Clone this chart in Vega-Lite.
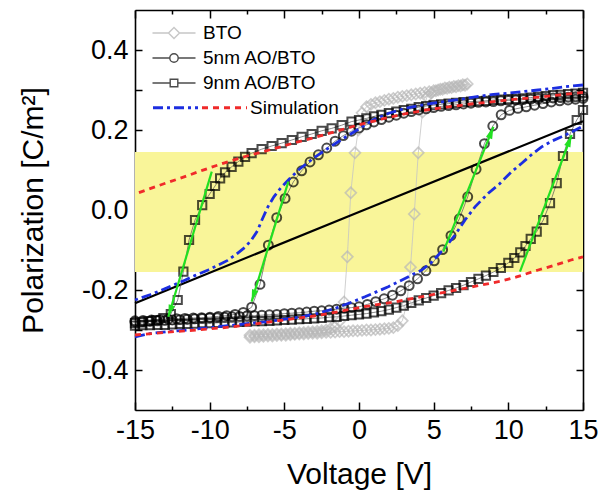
{
"$schema":"https://vega.github.io/schema/vega-lite/v6.json",
"width":448,"height":400,
"autosize":{"type":"none"},
"padding":{"left":135,"top":10,"right":20,"bottom":85},
"background":"white",
"config":{
 "view":{"stroke":null},
 "font":"Liberation Sans",
 "axis":{"grid":false,"domainColor":"black","domainWidth":1.6,"tickColor":"black","tickWidth":1.5,"labelFont":"Liberation Sans","labelFontSize":27,"labelColor":"black","titleFont":"Liberation Sans","titleFontSize":30,"titleFontWeight":"normal","titleColor":"black"},
 "legend":{"labelFont":"Liberation Sans","labelFontSize":19,"labelColor":"black","padding":0}
},
"data":{"values":[
{"s":"band","v":-15,"v2":15,"p":-0.155,"p2":0.145},
{"s":"lin","v":-15,"p":-0.233},{"s":"lin","v":0,"p":-0.005},{"s":"lin","v":15,"p":0.222},
{"s":"bto","b":"lo","v":-7.3,"p":-0.318},{"s":"bto","b":"lo","v":-7.0,"p":-0.317},{"s":"bto","b":"lo","v":-6.7,"p":-0.317},{"s":"bto","b":"lo","v":-6.4,"p":-0.316},{"s":"bto","b":"lo","v":-6.1,"p":-0.315},{"s":"bto","b":"lo","v":-5.8,"p":-0.315},{"s":"bto","b":"lo","v":-5.5,"p":-0.314},{"s":"bto","b":"lo","v":-5.2,"p":-0.313},{"s":"bto","b":"lo","v":-4.9,"p":-0.313},{"s":"bto","b":"lo","v":-4.6,"p":-0.312},{"s":"bto","b":"lo","v":-4.3,"p":-0.311},{"s":"bto","b":"lo","v":-4.0,"p":-0.31},{"s":"bto","b":"lo","v":-3.7,"p":-0.31},{"s":"bto","b":"lo","v":-3.4,"p":-0.309},{"s":"bto","b":"lo","v":-3.1,"p":-0.308},{"s":"bto","b":"lo","v":-2.8,"p":-0.308},{"s":"bto","b":"lo","v":-2.5,"p":-0.307},{"s":"bto","b":"lo","v":-2.2,"p":-0.306},{"s":"bto","b":"lo","v":-1.9,"p":-0.306},{"s":"bto","b":"lo","v":-1.6,"p":-0.305},{"s":"bto","b":"lo","v":-1.3,"p":-0.304},{"s":"bto","b":"lo","v":-1.0,"p":-0.304},{"s":"bto","b":"lo","v":-0.7,"p":-0.303},{"s":"bto","b":"lo","v":-0.4,"p":-0.302},{"s":"bto","b":"lo","v":-0.1,"p":-0.302},{"s":"bto","b":"lo","v":0.2,"p":-0.301},{"s":"bto","b":"lo","v":0.5,"p":-0.3},{"s":"bto","b":"lo","v":0.8,"p":-0.3},{"s":"bto","b":"lo","v":1.1,"p":-0.299},{"s":"bto","b":"lo","v":1.4,"p":-0.298},{"s":"bto","b":"lo","v":1.7,"p":-0.297},{"s":"bto","b":"lo","v":2.0,"p":-0.296},{"s":"bto","b":"lo","v":2.3,"p":-0.294},{"s":"bto","b":"lo","v":2.6,"p":-0.289},{"s":"bto","b":"lo","v":2.9,"p":-0.277},{"s":"bto","b":"lo","v":3.2,"p":-0.235},{"s":"bto","b":"lo","v":3.45,"p":-0.143},{"s":"bto","b":"lo","v":3.7,"p":-0.01},{"s":"bto","b":"lo","v":3.97,"p":0.143},{"s":"bto","b":"lo","v":4.25,"p":0.245},{"s":"bto","b":"lo","v":4.55,"p":0.282},{"s":"bto","b":"lo","v":4.85,"p":0.293},{"s":"bto","b":"lo","v":5.15,"p":0.298},{"s":"bto","b":"lo","v":5.45,"p":0.302},{"s":"bto","b":"lo","v":5.75,"p":0.305},{"s":"bto","b":"lo","v":6.05,"p":0.307},{"s":"bto","b":"lo","v":6.35,"p":0.309},{"s":"bto","b":"lo","v":6.65,"p":0.311},{"s":"bto","b":"lo","v":6.95,"p":0.313},{"s":"bto","b":"lo","v":7.25,"p":0.315},
{"s":"bto","b":"up","v":7.1,"p":0.312},{"s":"bto","b":"up","v":6.8,"p":0.31},{"s":"bto","b":"up","v":6.5,"p":0.308},{"s":"bto","b":"up","v":6.2,"p":0.306},{"s":"bto","b":"up","v":5.9,"p":0.304},{"s":"bto","b":"up","v":5.6,"p":0.302},{"s":"bto","b":"up","v":5.3,"p":0.3},{"s":"bto","b":"up","v":5.0,"p":0.298},{"s":"bto","b":"up","v":4.7,"p":0.296},{"s":"bto","b":"up","v":4.4,"p":0.294},{"s":"bto","b":"up","v":4.1,"p":0.292},{"s":"bto","b":"up","v":3.8,"p":0.29},{"s":"bto","b":"up","v":3.5,"p":0.288},{"s":"bto","b":"up","v":3.2,"p":0.286},{"s":"bto","b":"up","v":2.9,"p":0.284},{"s":"bto","b":"up","v":2.6,"p":0.282},{"s":"bto","b":"up","v":2.3,"p":0.279},{"s":"bto","b":"up","v":2.0,"p":0.277},{"s":"bto","b":"up","v":1.7,"p":0.274},{"s":"bto","b":"up","v":1.4,"p":0.271},{"s":"bto","b":"up","v":1.1,"p":0.268},{"s":"bto","b":"up","v":0.8,"p":0.264},{"s":"bto","b":"up","v":0.5,"p":0.258},{"s":"bto","b":"up","v":0.2,"p":0.243},{"s":"bto","b":"up","v":-0.05,"p":0.2},{"s":"bto","b":"up","v":-0.27,"p":0.143},{"s":"bto","b":"up","v":-0.55,"p":0.043},{"s":"bto","b":"up","v":-0.78,"p":-0.117},{"s":"bto","b":"up","v":-1.0,"p":-0.23},{"s":"bto","b":"up","v":-1.3,"p":-0.278},{"s":"bto","b":"up","v":-1.6,"p":-0.292},{"s":"bto","b":"up","v":-1.9,"p":-0.297},{"s":"bto","b":"up","v":-2.2,"p":-0.3},{"s":"bto","b":"up","v":-2.5,"p":-0.302},{"s":"bto","b":"up","v":-2.8,"p":-0.303},{"s":"bto","b":"up","v":-3.1,"p":-0.304},{"s":"bto","b":"up","v":-3.4,"p":-0.305},{"s":"bto","b":"up","v":-3.7,"p":-0.306},{"s":"bto","b":"up","v":-4.0,"p":-0.307},{"s":"bto","b":"up","v":-4.3,"p":-0.308},{"s":"bto","b":"up","v":-4.6,"p":-0.308},{"s":"bto","b":"up","v":-4.9,"p":-0.309},{"s":"bto","b":"up","v":-5.2,"p":-0.31},{"s":"bto","b":"up","v":-5.5,"p":-0.31},{"s":"bto","b":"up","v":-5.8,"p":-0.311},{"s":"bto","b":"up","v":-6.1,"p":-0.311},{"s":"bto","b":"up","v":-6.4,"p":-0.312},{"s":"bto","b":"up","v":-6.7,"p":-0.312},{"s":"bto","b":"up","v":-7.0,"p":-0.313},{"s":"bto","b":"up","v":-7.3,"p":-0.313},
{"s":"c5","b":"lo","v":-15,"p":-0.28},{"s":"c5","b":"lo","v":-14.5,"p":-0.279},{"s":"c5","b":"lo","v":-14,"p":-0.278},{"s":"c5","b":"lo","v":-13.5,"p":-0.277},{"s":"c5","b":"lo","v":-13,"p":-0.276},{"s":"c5","b":"lo","v":-12.5,"p":-0.275},{"s":"c5","b":"lo","v":-12,"p":-0.274},{"s":"c5","b":"lo","v":-11.5,"p":-0.273},{"s":"c5","b":"lo","v":-11,"p":-0.272},{"s":"c5","b":"lo","v":-10.5,"p":-0.271},{"s":"c5","b":"lo","v":-10,"p":-0.27},{"s":"c5","b":"lo","v":-9.5,"p":-0.269},{"s":"c5","b":"lo","v":-9,"p":-0.268},{"s":"c5","b":"lo","v":-8.5,"p":-0.267},{"s":"c5","b":"lo","v":-8,"p":-0.266},{"s":"c5","b":"lo","v":-7.5,"p":-0.265},{"s":"c5","b":"lo","v":-7,"p":-0.264},{"s":"c5","b":"lo","v":-6.5,"p":-0.263},{"s":"c5","b":"lo","v":-6,"p":-0.262},{"s":"c5","b":"lo","v":-5.5,"p":-0.261},{"s":"c5","b":"lo","v":-5,"p":-0.259},{"s":"c5","b":"lo","v":-4.5,"p":-0.258},{"s":"c5","b":"lo","v":-4,"p":-0.257},{"s":"c5","b":"lo","v":-3.5,"p":-0.255},{"s":"c5","b":"lo","v":-3,"p":-0.253},{"s":"c5","b":"lo","v":-2.5,"p":-0.252},{"s":"c5","b":"lo","v":-2,"p":-0.25},{"s":"c5","b":"lo","v":-1.5,"p":-0.248},{"s":"c5","b":"lo","v":-1,"p":-0.246},{"s":"c5","b":"lo","v":-0.5,"p":-0.244},{"s":"c5","b":"lo","v":0,"p":-0.242},{"s":"c5","b":"lo","v":0.56,"p":-0.236},{"s":"c5","b":"lo","v":1.12,"p":-0.229},{"s":"c5","b":"lo","v":1.68,"p":-0.222},{"s":"c5","b":"lo","v":2.24,"p":-0.213},{"s":"c5","b":"lo","v":2.8,"p":-0.202},{"s":"c5","b":"lo","v":3.36,"p":-0.189},{"s":"c5","b":"lo","v":3.92,"p":-0.172},{"s":"c5","b":"lo","v":4.48,"p":-0.152},{"s":"c5","b":"lo","v":5.04,"p":-0.127},{"s":"c5","b":"lo","v":5.6,"p":-0.099},{"s":"c5","b":"lo","v":6.16,"p":-0.064},{"s":"c5","b":"lo","v":6.72,"p":-0.022},{"s":"c5","b":"lo","v":7.28,"p":0.033},{"s":"c5","b":"lo","v":7.84,"p":0.102},{"s":"c5","b":"lo","v":8.4,"p":0.166},{"s":"c5","b":"lo","v":8.96,"p":0.21},{"s":"c5","b":"lo","v":9.52,"p":0.238},{"s":"c5","b":"lo","v":10.08,"p":0.249},{"s":"c5","b":"lo","v":10.64,"p":0.254},{"s":"c5","b":"lo","v":11.2,"p":0.258},{"s":"c5","b":"lo","v":11.76,"p":0.262},{"s":"c5","b":"lo","v":12.32,"p":0.266},{"s":"c5","b":"lo","v":12.88,"p":0.27},{"s":"c5","b":"lo","v":13.44,"p":0.273},{"s":"c5","b":"lo","v":14.0,"p":0.275},{"s":"c5","b":"lo","v":14.5,"p":0.277},{"s":"c5","b":"lo","v":15,"p":0.279},
{"s":"c5","b":"up","v":15,"p":0.284},{"s":"c5","b":"up","v":14.5,"p":0.283},{"s":"c5","b":"up","v":14,"p":0.282},{"s":"c5","b":"up","v":13.5,"p":0.281},{"s":"c5","b":"up","v":13,"p":0.28},{"s":"c5","b":"up","v":12.5,"p":0.279},{"s":"c5","b":"up","v":12,"p":0.278},{"s":"c5","b":"up","v":11.5,"p":0.277},{"s":"c5","b":"up","v":11,"p":0.276},{"s":"c5","b":"up","v":10.5,"p":0.275},{"s":"c5","b":"up","v":10,"p":0.274},{"s":"c5","b":"up","v":9.5,"p":0.273},{"s":"c5","b":"up","v":9,"p":0.271},{"s":"c5","b":"up","v":8.5,"p":0.27},{"s":"c5","b":"up","v":8,"p":0.269},{"s":"c5","b":"up","v":7.5,"p":0.267},{"s":"c5","b":"up","v":7,"p":0.265},{"s":"c5","b":"up","v":6.5,"p":0.263},{"s":"c5","b":"up","v":6,"p":0.261},{"s":"c5","b":"up","v":5.5,"p":0.259},{"s":"c5","b":"up","v":5,"p":0.256},{"s":"c5","b":"up","v":4.5,"p":0.253},{"s":"c5","b":"up","v":4,"p":0.25},{"s":"c5","b":"up","v":3.5,"p":0.246},{"s":"c5","b":"up","v":3,"p":0.242},{"s":"c5","b":"up","v":2.5,"p":0.237},{"s":"c5","b":"up","v":2,"p":0.232},{"s":"c5","b":"up","v":1.5,"p":0.226},{"s":"c5","b":"up","v":1,"p":0.22},{"s":"c5","b":"up","v":0.5,"p":0.213},{"s":"c5","b":"up","v":0,"p":0.205},{"s":"c5","b":"up","v":-0.5,"p":0.197},{"s":"c5","b":"up","v":-1.05,"p":0.186},{"s":"c5","b":"up","v":-1.6,"p":0.172},{"s":"c5","b":"up","v":-2.16,"p":0.155},{"s":"c5","b":"up","v":-2.72,"p":0.138},{"s":"c5","b":"up","v":-3.28,"p":0.12},{"s":"c5","b":"up","v":-3.84,"p":0.098},{"s":"c5","b":"up","v":-4.4,"p":0.07},{"s":"c5","b":"up","v":-4.95,"p":0.029},{"s":"c5","b":"up","v":-5.51,"p":-0.019},{"s":"c5","b":"up","v":-6.07,"p":-0.088},{"s":"c5","b":"up","v":-6.63,"p":-0.186},{"s":"c5","b":"up","v":-7.19,"p":-0.243},{"s":"c5","b":"up","v":-7.75,"p":-0.256},{"s":"c5","b":"up","v":-8.3,"p":-0.261},{"s":"c5","b":"up","v":-8.86,"p":-0.264},{"s":"c5","b":"up","v":-9.42,"p":-0.266},{"s":"c5","b":"up","v":-9.98,"p":-0.268},{"s":"c5","b":"up","v":-10.54,"p":-0.269},{"s":"c5","b":"up","v":-11.1,"p":-0.27},{"s":"c5","b":"up","v":-11.66,"p":-0.271},{"s":"c5","b":"up","v":-12.22,"p":-0.272},{"s":"c5","b":"up","v":-12.78,"p":-0.273},{"s":"c5","b":"up","v":-13.34,"p":-0.274},{"s":"c5","b":"up","v":-13.9,"p":-0.275},{"s":"c5","b":"up","v":-14.46,"p":-0.276},{"s":"c5","b":"up","v":-15,"p":-0.277},
{"s":"s9","b":"lo","v":-15,"p":-0.289},{"s":"s9","b":"lo","v":-14.5,"p":-0.288},{"s":"s9","b":"lo","v":-14,"p":-0.288},{"s":"s9","b":"lo","v":-13.5,"p":-0.287},{"s":"s9","b":"lo","v":-13,"p":-0.287},{"s":"s9","b":"lo","v":-12.5,"p":-0.286},{"s":"s9","b":"lo","v":-12,"p":-0.285},{"s":"s9","b":"lo","v":-11.5,"p":-0.285},{"s":"s9","b":"lo","v":-11,"p":-0.284},{"s":"s9","b":"lo","v":-10.5,"p":-0.283},{"s":"s9","b":"lo","v":-10,"p":-0.283},{"s":"s9","b":"lo","v":-9.5,"p":-0.282},{"s":"s9","b":"lo","v":-9,"p":-0.281},{"s":"s9","b":"lo","v":-8.5,"p":-0.281},{"s":"s9","b":"lo","v":-8,"p":-0.28},{"s":"s9","b":"lo","v":-7.5,"p":-0.279},{"s":"s9","b":"lo","v":-7,"p":-0.278},{"s":"s9","b":"lo","v":-6.5,"p":-0.278},{"s":"s9","b":"lo","v":-6,"p":-0.277},{"s":"s9","b":"lo","v":-5.5,"p":-0.276},{"s":"s9","b":"lo","v":-5,"p":-0.275},{"s":"s9","b":"lo","v":-4.5,"p":-0.274},{"s":"s9","b":"lo","v":-4,"p":-0.273},{"s":"s9","b":"lo","v":-3.5,"p":-0.272},{"s":"s9","b":"lo","v":-3,"p":-0.271},{"s":"s9","b":"lo","v":-2.5,"p":-0.27},{"s":"s9","b":"lo","v":-2,"p":-0.268},{"s":"s9","b":"lo","v":-1.5,"p":-0.267},{"s":"s9","b":"lo","v":-1,"p":-0.265},{"s":"s9","b":"lo","v":-0.5,"p":-0.263},{"s":"s9","b":"lo","v":0,"p":-0.261},{"s":"s9","b":"lo","v":0.5,"p":-0.259},{"s":"s9","b":"lo","v":1,"p":-0.256},{"s":"s9","b":"lo","v":1.5,"p":-0.253},{"s":"s9","b":"lo","v":2,"p":-0.249},{"s":"s9","b":"lo","v":2.5,"p":-0.244},{"s":"s9","b":"lo","v":3,"p":-0.239},{"s":"s9","b":"lo","v":3.5,"p":-0.232},{"s":"s9","b":"lo","v":4,"p":-0.226},{"s":"s9","b":"lo","v":4.5,"p":-0.22},{"s":"s9","b":"lo","v":5,"p":-0.214},{"s":"s9","b":"lo","v":5.5,"p":-0.208},{"s":"s9","b":"lo","v":6,"p":-0.201},{"s":"s9","b":"lo","v":6.5,"p":-0.195},{"s":"s9","b":"lo","v":7,"p":-0.188},{"s":"s9","b":"lo","v":7.5,"p":-0.18},{"s":"s9","b":"lo","v":8,"p":-0.172},{"s":"s9","b":"lo","v":8.5,"p":-0.164},{"s":"s9","b":"lo","v":9,"p":-0.155},{"s":"s9","b":"lo","v":9.5,"p":-0.145},{"s":"s9","b":"lo","v":10,"p":-0.132},{"s":"s9","b":"lo","v":10.4,"p":-0.12},{"s":"s9","b":"lo","v":10.8,"p":-0.106},{"s":"s9","b":"lo","v":11.15,"p":-0.09},{"s":"s9","b":"lo","v":11.5,"p":-0.072},{"s":"s9","b":"lo","v":11.9,"p":-0.054},{"s":"s9","b":"lo","v":12.34,"p":-0.025},{"s":"s9","b":"lo","v":12.79,"p":0.017},{"s":"s9","b":"lo","v":13.24,"p":0.067},{"s":"s9","b":"lo","v":13.66,"p":0.135},{"s":"s9","b":"lo","v":14.13,"p":0.19},{"s":"s9","b":"lo","v":14.58,"p":0.225},{"s":"s9","b":"lo","v":15,"p":0.25},
{"s":"s9","b":"up","v":15,"p":0.293},{"s":"s9","b":"up","v":14.5,"p":0.291},{"s":"s9","b":"up","v":14,"p":0.29},{"s":"s9","b":"up","v":13.5,"p":0.288},{"s":"s9","b":"up","v":13,"p":0.287},{"s":"s9","b":"up","v":12.5,"p":0.285},{"s":"s9","b":"up","v":12,"p":0.283},{"s":"s9","b":"up","v":11.5,"p":0.281},{"s":"s9","b":"up","v":11,"p":0.279},{"s":"s9","b":"up","v":10.5,"p":0.278},{"s":"s9","b":"up","v":10,"p":0.277},{"s":"s9","b":"up","v":9.5,"p":0.276},{"s":"s9","b":"up","v":9,"p":0.275},{"s":"s9","b":"up","v":8.5,"p":0.273},{"s":"s9","b":"up","v":8,"p":0.272},{"s":"s9","b":"up","v":7.5,"p":0.271},{"s":"s9","b":"up","v":7,"p":0.27},{"s":"s9","b":"up","v":6.5,"p":0.268},{"s":"s9","b":"up","v":6,"p":0.266},{"s":"s9","b":"up","v":5.5,"p":0.264},{"s":"s9","b":"up","v":5,"p":0.262},{"s":"s9","b":"up","v":4.5,"p":0.26},{"s":"s9","b":"up","v":4,"p":0.257},{"s":"s9","b":"up","v":3.5,"p":0.253},{"s":"s9","b":"up","v":3,"p":0.25},{"s":"s9","b":"up","v":2.5,"p":0.246},{"s":"s9","b":"up","v":2,"p":0.242},{"s":"s9","b":"up","v":1.5,"p":0.238},{"s":"s9","b":"up","v":1,"p":0.234},{"s":"s9","b":"up","v":0.5,"p":0.229},{"s":"s9","b":"up","v":0,"p":0.225},{"s":"s9","b":"up","v":-0.5,"p":0.221},{"s":"s9","b":"up","v":-1.16,"p":0.212},{"s":"s9","b":"up","v":-1.83,"p":0.204},{"s":"s9","b":"up","v":-2.5,"p":0.198},{"s":"s9","b":"up","v":-3.17,"p":0.19},{"s":"s9","b":"up","v":-3.84,"p":0.183},{"s":"s9","b":"up","v":-4.5,"p":0.175},{"s":"s9","b":"up","v":-5.18,"p":0.167},{"s":"s9","b":"up","v":-5.85,"p":0.16},{"s":"s9","b":"up","v":-6.52,"p":0.152},{"s":"s9","b":"up","v":-7.19,"p":0.142},{"s":"s9","b":"up","v":-7.63,"p":0.133},{"s":"s9","b":"up","v":-8.08,"p":0.121},{"s":"s9","b":"up","v":-8.53,"p":0.108},{"s":"s9","b":"up","v":-8.97,"p":0.094},{"s":"s9","b":"up","v":-9.3,"p":0.079},{"s":"s9","b":"up","v":-9.64,"p":0.06},{"s":"s9","b":"up","v":-10.0,"p":0.04},{"s":"s9","b":"up","v":-10.5,"p":0.012},{"s":"s9","b":"up","v":-10.98,"p":-0.025},{"s":"s9","b":"up","v":-11.38,"p":-0.075},{"s":"s9","b":"up","v":-11.76,"p":-0.154},{"s":"s9","b":"up","v":-12.14,"p":-0.225},{"s":"s9","b":"up","v":-12.6,"p":-0.26},{"s":"s9","b":"up","v":-13.1,"p":-0.27},{"s":"s9","b":"up","v":-13.6,"p":-0.275},{"s":"s9","b":"up","v":-14.1,"p":-0.278},{"s":"s9","b":"up","v":-14.55,"p":-0.281},{"s":"s9","b":"up","v":-15,"p":-0.283},
{"s":"sb","b":"up","v":15,"p":0.3125},{"s":"sb","b":"up","v":14,"p":0.309},{"s":"sb","b":"up","v":13,"p":0.304},{"s":"sb","b":"up","v":12,"p":0.3},{"s":"sb","b":"up","v":11,"p":0.296},{"s":"sb","b":"up","v":10,"p":0.292},{"s":"sb","b":"up","v":9,"p":0.289},{"s":"sb","b":"up","v":8,"p":0.284},{"s":"sb","b":"up","v":7,"p":0.278},{"s":"sb","b":"up","v":6,"p":0.273},{"s":"sb","b":"up","v":5,"p":0.267},{"s":"sb","b":"up","v":4,"p":0.261},{"s":"sb","b":"up","v":3,"p":0.253},{"s":"sb","b":"up","v":2,"p":0.242},{"s":"sb","b":"up","v":1,"p":0.226},{"s":"sb","b":"up","v":0,"p":0.203},{"s":"sb","b":"up","v":-1,"p":0.18},{"s":"sb","b":"up","v":-2,"p":0.156},{"s":"sb","b":"up","v":-3,"p":0.131},{"s":"sb","b":"up","v":-4,"p":0.102},{"s":"sb","b":"up","v":-4.7,"p":0.076},{"s":"sb","b":"up","v":-5.2,"p":0.057},{"s":"sb","b":"up","v":-5.7,"p":0.033},{"s":"sb","b":"up","v":-6.1,"p":0.008},{"s":"sb","b":"up","v":-6.5,"p":-0.025},{"s":"sb","b":"up","v":-6.8,"p":-0.052},{"s":"sb","b":"up","v":-7.2,"p":-0.075},{"s":"sb","b":"up","v":-7.6,"p":-0.092},{"s":"sb","b":"up","v":-8.2,"p":-0.11},{"s":"sb","b":"up","v":-8.8,"p":-0.126},{"s":"sb","b":"up","v":-9.5,"p":-0.139},{"s":"sb","b":"up","v":-10.1,"p":-0.15},{"s":"sb","b":"up","v":-11,"p":-0.164},{"s":"sb","b":"up","v":-11.7,"p":-0.176},{"s":"sb","b":"up","v":-12.5,"p":-0.189},{"s":"sb","b":"up","v":-13.2,"p":-0.2},{"s":"sb","b":"up","v":-14,"p":-0.212},{"s":"sb","b":"up","v":-15,"p":-0.225},
{"s":"sb","b":"lo","v":-15,"p":-0.317},{"s":"sb","b":"lo","v":-14,"p":-0.309},{"s":"sb","b":"lo","v":-12.8,"p":-0.304},{"s":"sb","b":"lo","v":-11.5,"p":-0.3},{"s":"sb","b":"lo","v":-10.5,"p":-0.296},{"s":"sb","b":"lo","v":-9.5,"p":-0.292},{"s":"sb","b":"lo","v":-8.3,"p":-0.2875},{"s":"sb","b":"lo","v":-7.2,"p":-0.283},{"s":"sb","b":"lo","v":-6.1,"p":-0.279},{"s":"sb","b":"lo","v":-5,"p":-0.273},{"s":"sb","b":"lo","v":-3.84,"p":-0.267},{"s":"sb","b":"lo","v":-2.7,"p":-0.258},{"s":"sb","b":"lo","v":-1.6,"p":-0.246},{"s":"sb","b":"lo","v":-0.6,"p":-0.232},{"s":"sb","b":"lo","v":0.4,"p":-0.217},{"s":"sb","b":"lo","v":1.2,"p":-0.204},{"s":"sb","b":"lo","v":1.96,"p":-0.192},{"s":"sb","b":"lo","v":3.08,"p":-0.171},{"s":"sb","b":"lo","v":4.2,"p":-0.15},{"s":"sb","b":"lo","v":4.8,"p":-0.133},{"s":"sb","b":"lo","v":5.31,"p":-0.1125},{"s":"sb","b":"lo","v":5.9,"p":-0.088},{"s":"sb","b":"lo","v":6.43,"p":-0.0625},{"s":"sb","b":"lo","v":7.1,"p":-0.025},{"s":"sb","b":"lo","v":7.77,"p":0.008},{"s":"sb","b":"lo","v":8.66,"p":0.042},{"s":"sb","b":"lo","v":9.4,"p":0.065},{"s":"sb","b":"lo","v":10.2,"p":0.095},{"s":"sb","b":"lo","v":10.9,"p":0.117},{"s":"sb","b":"lo","v":11.6,"p":0.14},{"s":"sb","b":"lo","v":12.23,"p":0.158},{"s":"sb","b":"lo","v":12.9,"p":0.172},{"s":"sb","b":"lo","v":13.57,"p":0.183},{"s":"sb","b":"lo","v":14.3,"p":0.196},{"s":"sb","b":"lo","v":15,"p":0.21},
{"s":"sr","b":"up","v":15,"p":0.294},{"s":"sr","b":"up","v":13.5,"p":0.288},{"s":"sr","b":"up","v":12,"p":0.282},{"s":"sr","b":"up","v":10.5,"p":0.277},{"s":"sr","b":"up","v":9,"p":0.271},{"s":"sr","b":"up","v":7.5,"p":0.265},{"s":"sr","b":"up","v":6,"p":0.258},{"s":"sr","b":"up","v":4.5,"p":0.25},{"s":"sr","b":"up","v":3,"p":0.24},{"s":"sr","b":"up","v":1.5,"p":0.227},{"s":"sr","b":"up","v":0,"p":0.213},{"s":"sr","b":"up","v":-1.5,"p":0.197},{"s":"sr","b":"up","v":-3,"p":0.181},{"s":"sr","b":"up","v":-4.5,"p":0.166},{"s":"sr","b":"up","v":-6,"p":0.15},{"s":"sr","b":"up","v":-7.5,"p":0.135},{"s":"sr","b":"up","v":-9,"p":0.118},{"s":"sr","b":"up","v":-10.5,"p":0.099},{"s":"sr","b":"up","v":-12,"p":0.079},{"s":"sr","b":"up","v":-13.5,"p":0.06},{"s":"sr","b":"up","v":-15,"p":0.04},
{"s":"sr","b":"lo","v":-15,"p":-0.3125},{"s":"sr","b":"lo","v":-13,"p":-0.306},{"s":"sr","b":"lo","v":-10.9,"p":-0.3},{"s":"sr","b":"lo","v":-9,"p":-0.294},{"s":"sr","b":"lo","v":-7.5,"p":-0.2875},{"s":"sr","b":"lo","v":-6,"p":-0.28},{"s":"sr","b":"lo","v":-4.2,"p":-0.271},{"s":"sr","b":"lo","v":-3,"p":-0.265},{"s":"sr","b":"lo","v":-1.9,"p":-0.258},{"s":"sr","b":"lo","v":0.3,"p":-0.242},{"s":"sr","b":"lo","v":2.5,"p":-0.229},{"s":"sr","b":"lo","v":4.8,"p":-0.2125},{"s":"sr","b":"lo","v":7.2,"p":-0.195},{"s":"sr","b":"lo","v":9.5,"p":-0.178},{"s":"sr","b":"lo","v":10.5,"p":-0.168},{"s":"sr","b":"lo","v":12,"p":-0.15},{"s":"sr","b":"lo","v":13.2,"p":-0.137},{"s":"sr","b":"lo","v":14.2,"p":-0.125},{"s":"sr","b":"lo","v":15,"p":-0.117},
{"s":"arrow","d":"down","v":-9.86,"p":0.096,"v2":-12.77,"p2":-0.267},
{"s":"arrow","d":"down","v":-4.73,"p":0.071,"v2":-7.19,"p2":-0.229},
{"s":"arrow","d":"up","v":5.65,"p":-0.104,"v2":9.0,"p2":0.208},
{"s":"arrow","d":"up","v":10.78,"p":-0.154,"v2":14.24,"p2":0.1875}
]},
"encoding":{
 "x":{"field":"v","type":"quantitative","scale":{"domain":[-15,15],"nice":false,"zero":false},"axis":null},
 "y":{"field":"p","type":"quantitative","scale":{"domain":[-0.5,0.5],"nice":false,"zero":false},"axis":null}
},
"layer":[
 {"transform":[{"filter":"datum.s=='band'"}],
  "mark":{"type":"rect","color":"#f9f599"},
  "encoding":{
   "x":{"field":"v","type":"quantitative","scale":{"domain":[-15,15],"nice":false,"zero":false},
    "axis":{"orient":"bottom","values":[-15,-12.5,-10,-7.5,-5,-2.5,0,2.5,5,7.5,10,12.5,15],"labelExpr":"datum.value % 5 == 0 ? (datum.value < 0 ? '-' : '') + format(abs(datum.value),'d') : ''","tickSize":{"condition":{"test":"datum.value % 5 == 0","value":-8},"value":-4},"labelPadding":15,"labelFlush":false,"labelOverlap":false,"title":"Voltage [V]","titlePadding":12}},
   "x2":{"field":"v2"},
   "y":{"field":"p","type":"quantitative","scale":{"domain":[-0.5,0.5],"nice":false,"zero":false},
    "axis":{"orient":"left","values":[-0.4,-0.3,-0.2,-0.1,0,0.1,0.2,0.3,0.4],"labelExpr":"round(datum.value*10) % 2 == 0 ? (datum.value < -0.01 ? '-' : '') + format(abs(datum.value),'.1f') : ''","tickSize":-7,"labelPadding":14,"labelFlush":false,"labelOverlap":false,"title":"Polarization [C/m²]","titlePadding":33}},
   "y2":{"field":"p2"}
  }},
 {"transform":[{"filter":"datum.s=='bto'"}],
  "mark":{"type":"line","stroke":"#c4c4c4","strokeWidth":0.8},
  "encoding":{"order":{"value":null}}},
 {"transform":[{"filter":"datum.s=='lin'"}],
  "mark":{"type":"line","stroke":"black","strokeWidth":2.2},
  "encoding":{
   "x":{"field":"v","type":"quantitative","scale":{"domain":[-15,15],"nice":false,"zero":false},
    "axis":{"orient":"top","values":[-15,-12.5,-10,-7.5,-5,-2.5,0,2.5,5,7.5,10,12.5,15],"labels":false,"tickSize":{"condition":{"test":"datum.value % 5 == 0","value":-8},"value":-4},"title":null}},
   "y":{"field":"p","type":"quantitative","scale":{"domain":[-0.5,0.5],"nice":false,"zero":false},
    "axis":{"orient":"right","values":[-0.4,-0.3,-0.2,-0.1,0,0.1,0.2,0.3,0.4],"labels":false,"tickSize":-7,"title":null}}
  }},
 {"transform":[{"filter":"datum.s=='c5' || datum.s=='s9'"}],
  "mark":{"type":"line","stroke":"#555555","strokeWidth":0.7},
  "encoding":{"detail":{"field":"s"},"order":{"value":null}}},
 {"transform":[{"filter":"datum.s=='bto'"}],
  "mark":{"type":"point","shape":"diamond","filled":false,"stroke":"#b8b8b8","strokeWidth":1.7,"size":120}},
 {"transform":[{"filter":"datum.s=='c5'"}],
  "mark":{"type":"point","shape":"circle","filled":false,"stroke":"black","strokeWidth":2,"size":80}},
 {"transform":[{"filter":"datum.s=='s9'"}],
  "mark":{"type":"point","shape":"square","filled":false,"stroke":"black","strokeWidth":2,"size":68}},
 {"transform":[{"filter":"datum.s=='sb' || datum.s=='sr'"}],
  "mark":{"type":"line","strokeWidth":2.8},
  "encoding":{
   "color":{"field":"s","type":"nominal","scale":{"domain":["sb","sr"],"range":["#1c2ee0","#f02a2a"]},
    "legend":{"orient":"none","legendX":29,"legendY":86,"direction":"horizontal","title":null,"symbolType":"M-2.25,0H2.25","symbolSize":400,"symbolStrokeWidth":2.8,"labelOffset":14,"columnPadding":-8,"labelExpr":"datum.value=='sr' ? 'Simulation' : ''"}},
   "strokeDash":{"field":"s","type":"nominal","scale":{"domain":["sb","sr"],"range":[[10,4,3,4],[6,5]]},
    "legend":{"orient":"none","legendX":29,"legendY":86,"direction":"horizontal","title":null,"symbolType":"M-2.25,0H2.25","symbolSize":400,"symbolStrokeWidth":2.8,"labelOffset":14,"columnPadding":-8,"labelExpr":"datum.value=='sr' ? 'Simulation' : ''"}},
   "detail":{"field":"b"},
   "order":{"value":null}
  }},
 {"transform":[{"filter":"datum.s=='none'"}],
  "mark":{"type":"point","filled":false,"strokeWidth":1.3},
  "encoding":{
   "shape":{"field":"s","type":"nominal","scale":{"domain":["bto","c5","s9"],"range":["M-2.15,0H-0.55M0.55,0H2.15M-0.55,0L0,-0.55L0.55,0L0,0.55Z","M-2.15,0H-0.42M0.42,0H2.15M-0.42,0A0.42,0.42,0,1,1,0.42,0A0.42,0.42,0,1,1,-0.42,0","M-2.15,0H-0.38M0.38,0H2.15M-0.38,-0.38H0.38V0.38H-0.38Z"]},
    "legend":{"orient":"none","legendX":28,"legendY":12,"title":null,"symbolSize":400,"symbolStrokeWidth":1.4,"labelOffset":18,"rowPadding":4,"labelExpr":"datum.value=='bto' ? 'BTO' : datum.value=='c5' ? '5nm AO/BTO' : '9nm AO/BTO'"}},
   "stroke":{"field":"s","type":"nominal","scale":{"domain":["bto","c5","s9"],"range":["#b0b0b0","black","black"]},
    "legend":{"orient":"none","legendX":28,"legendY":12,"title":null,"symbolSize":400,"symbolStrokeWidth":1.4,"labelOffset":18,"rowPadding":4,"labelExpr":"datum.value=='bto' ? 'BTO' : datum.value=='c5' ? '5nm AO/BTO' : '9nm AO/BTO'"}}
  }},
 {"transform":[{"filter":"datum.s=='arrow'"}],
  "mark":{"type":"rule","color":"#22e022","strokeWidth":2.2},
  "encoding":{"x2":{"field":"v2"},"y2":{"field":"p2"}}},
 {"transform":[{"filter":"datum.s=='arrow' && datum.d=='down'"}],
  "mark":{"type":"point","shape":"M0,0L-0.6,2.2L0.6,2.2Z","filled":true,"color":"#22e022","size":120,"angle":197,"opacity":1},
  "encoding":{
   "x":{"field":"v2","type":"quantitative","scale":{"domain":[-15,15],"nice":false,"zero":false},"axis":null},
   "y":{"field":"p2","type":"quantitative","scale":{"domain":[-0.5,0.5],"nice":false,"zero":false},"axis":null}}},
 {"transform":[{"filter":"datum.s=='arrow' && datum.d=='up'"}],
  "mark":{"type":"point","shape":"M0,0L-0.6,2.2L0.6,2.2Z","filled":true,"color":"#22e022","size":120,"angle":21,"opacity":1},
  "encoding":{
   "x":{"field":"v2","type":"quantitative","scale":{"domain":[-15,15],"nice":false,"zero":false},"axis":null},
   "y":{"field":"p2","type":"quantitative","scale":{"domain":[-0.5,0.5],"nice":false,"zero":false},"axis":null}}}
]
}
